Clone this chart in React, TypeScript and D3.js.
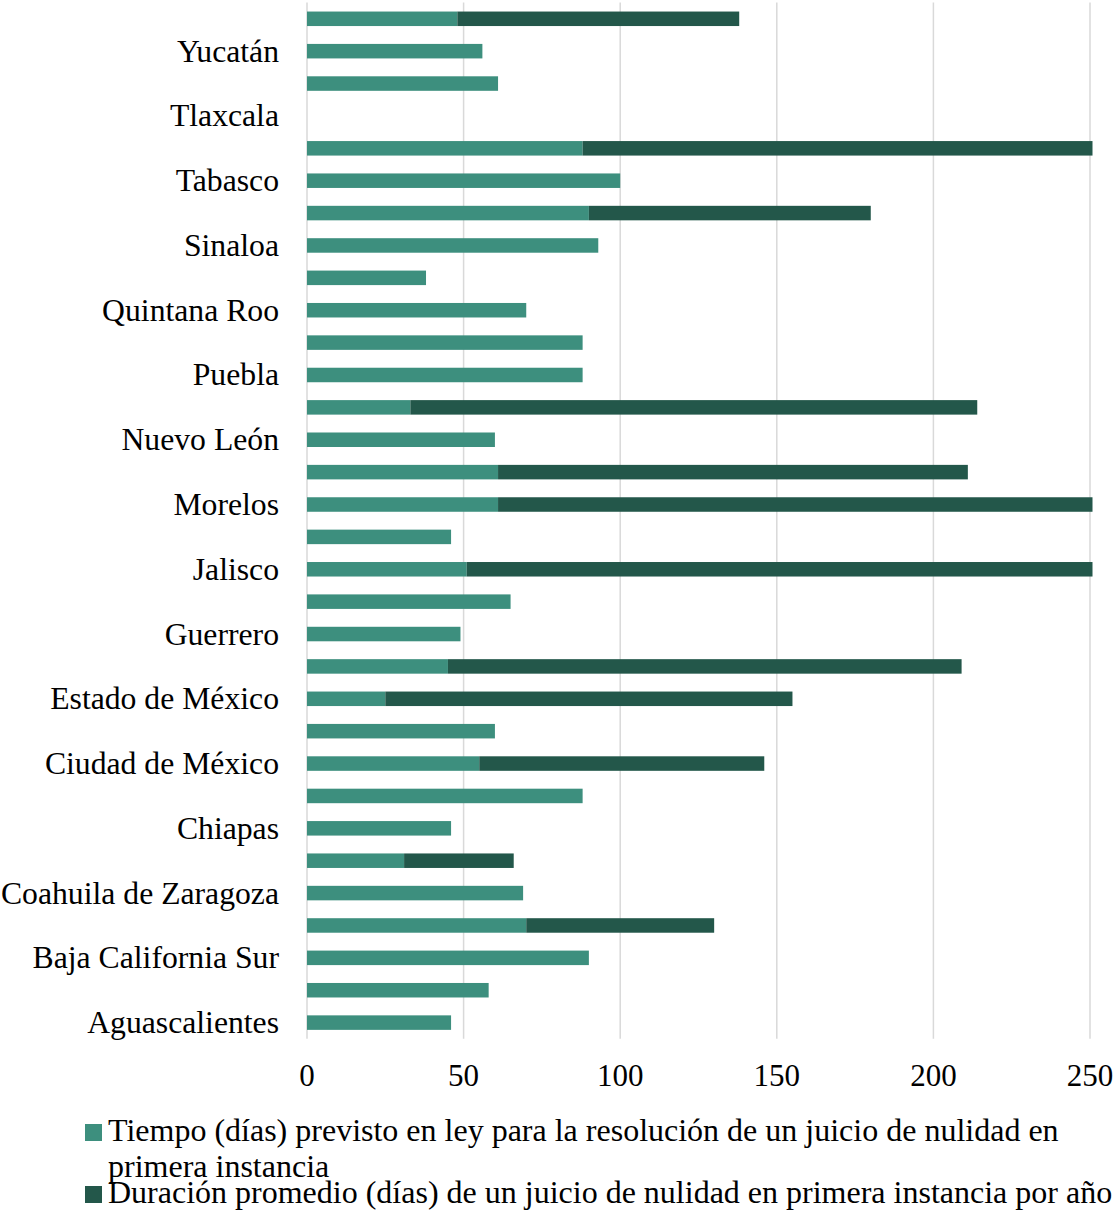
import React from "react";
import * as d3 from "d3";

const states = [
  "Aguascalientes", "Baja California", "Baja California Sur", "Campeche",
  "Coahuila de Zaragoza", "Colima", "Chiapas", "Chihuahua", "Ciudad de México",
  "Durango", "Estado de México", "Guanajuato", "Guerrero", "Hidalgo", "Jalisco",
  "Michoacán", "Morelos", "Nayarit", "Nuevo León", "Oaxaca", "Puebla", "Querétaro",
  "Quintana Roo", "San Luis Potosí", "Sinaloa", "Sonora", "Tabasco", "Tamaulipas",
  "Tlaxcala", "Veracruz", "Yucatán", "Zacatecas",
];

// Tiempo (días) previsto en ley
const tiempoPrevisto = [
  46, 58, 90, 70, 69, 31, 46, 88, 55, 60, 25, 45, 49, 65, 51, 46,
  61, 61, 60, 33, 88, 88, 70, 38, 93, 90, 100, 88, 0, 61, 56, 48,
];

// Duración promedio (días) – stacked segment beyond the first series
const duracionPromedio = [
  0, 0, 0, 60, 0, 35, 0, 0, 91, 0, 130, 164, 0, 0, 230, 0,
  220, 150, 0, 181, 0, 0, 0, 0, 0, 90, 0, 200, 0, 0, 0, 90,
];

const xTicks = [0, 50, 100, 150, 200, 250];

const legendItems = [
  { lines: ["Tiempo (días) previsto en ley para la resolución de un juicio de nulidad en", "primera instancia"], color: "#3D8F7E" },
  { lines: ["Duración promedio (días) de un juicio de nulidad en primera instancia por año"], color: "#23574A" },
];

const W = 1116;
const H = 1212;
const FONT = "'Liberation Serif', 'Times New Roman', Times, serif";
const GREEN = "#3D8F7E";

export default function App() {
  const x = d3.scaleLinear().domain([0, 250]).range([307, 1090]);
  const order = states.slice().reverse();
  const y = d3
    .scaleBand<string>()
    .domain(order)
    .range([2.6, 1038.8])
    .paddingInner(0.552)
    .paddingOuter(0.276);
  const bw = y.bandwidth();
  const maxX = x(250) + 2.5;
  const DARK = legendItems[1].color;

  return (
    <svg
      width={W}
      height={H}
      style={{ position: "absolute", left: 0, top: 0, background: "#fff" }}
    >
      {xTicks.map((t) => (
        <line
          key={"g" + t}
          x1={x(t)}
          x2={x(t)}
          y1={2.6}
          y2={1038.8}
          stroke="#d9d9d9"
          strokeWidth={1.5}
        />
      ))}
      {states.map((s, i) => {
        const yy = y(s)!;
        const g = tiempoPrevisto[i];
        const d = duracionPromedio[i];
        const x0 = x(0);
        const x1 = x(g);
        const x2 = Math.min(x(g + d), maxX);
        return (
          <g key={s}>
            {g > 0 && (
              <rect x={x0} y={yy} width={x1 - x0} height={bw} fill={GREEN} />
            )}
            {d > 0 && (
              <rect x={x1} y={yy} width={Math.max(0, x2 - x1)} height={bw} fill={DARK} />
            )}
          </g>
        );
      })}
      {states.map((s, i) =>
        i % 2 === 0 ? (
          <text
            key={"l" + s}
            x={279}
            y={y(s)! + bw / 2 + 10.5}
            textAnchor="end"
            fontFamily={FONT}
            fontSize={31.7}
            fill="#000"
          >
            {s}
          </text>
        ) : null
      )}
      {xTicks.map((t) => (
        <text
          key={"t" + t}
          x={x(t)}
          y={1086}
          textAnchor="middle"
          fontFamily={FONT}
          fontSize={31}
          fill="#000"
        >
          {t}
        </text>
      ))}
      {legendItems.map((item, k) => {
        const markerY = k === 0 ? 1124 : 1186;
        const baselines = k === 0 ? [1141, 1177] : [1203];
        return (
          <g key={"lg" + k}>
            <rect x={85} y={markerY} width={17} height={17} fill={item.color} />
            {item.lines.map((ln, j) => (
              <text
                key={j}
                x={108}
                y={baselines[j]}
                fontFamily={FONT}
                fontSize={32}
                fill="#000"
              >
                {ln}
              </text>
            ))}
          </g>
        );
      })}
    </svg>
  );
}
